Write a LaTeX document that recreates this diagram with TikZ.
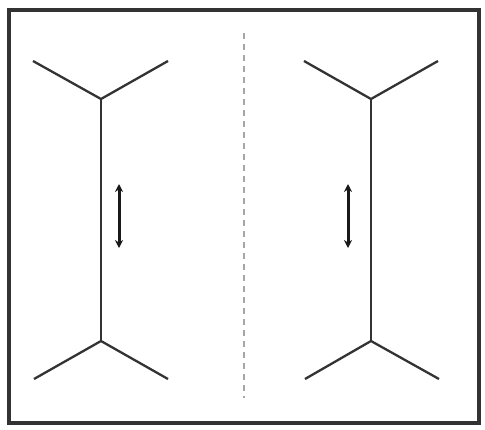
\documentclass[tikz,border=0pt]{standalone}
\usetikzlibrary{arrows.meta}
\begin{document}
\begin{tikzpicture}[x=1pt,y=-1pt,
  figline/.style={line width=2.3pt,draw=black!80,line join=miter},
  frameline/.style={line width=3.5pt,draw=black!80},
  midline/.style={line width=1.8pt,draw=black!35,dash pattern=on 6pt off 5pt},
  dblarrow/.style={line width=3pt,draw=black!90,{Stealth[length=8pt,width=8pt]}-{Stealth[length=8pt,width=8pt]}}]
\useasboundingbox (0,0) rectangle (485,429);
\draw[frameline] (9,10) rectangle (479,423);
\draw[midline] (244,33) -- (244,398);
% left figure
\coordinate (LT) at (101,99);
\coordinate (LB) at (101,341);
\coordinate (LTa) at (33,61);
\coordinate (LTb) at (168,61);
\coordinate (LBa) at (34,379);
\coordinate (LBb) at (168,379);
\draw[figline] (LTa) -- (LT) -- (LTb);
\draw[figline] (LT) -- (LB);
\draw[figline] (LBa) -- (LB) -- (LBb);
\coordinate (LAt) at (119,184);
\coordinate (LAb) at (119,248);
\draw[dblarrow] (LAt) -- (LAb);
% right figure
\coordinate (RT) at (371,99);
\coordinate (RB) at (371,341);
\coordinate (RTa) at (304,61);
\coordinate (RTb) at (438,61);
\coordinate (RBa) at (305,379);
\coordinate (RBb) at (439,379);
\draw[figline] (RTa) -- (RT) -- (RTb);
\draw[figline] (RT) -- (RB);
\draw[figline] (RBa) -- (RB) -- (RBb);
\coordinate (RAt) at (348,184);
\coordinate (RAb) at (348,248);
\draw[dblarrow] (RAt) -- (RAb);
\end{tikzpicture}
\end{document}
